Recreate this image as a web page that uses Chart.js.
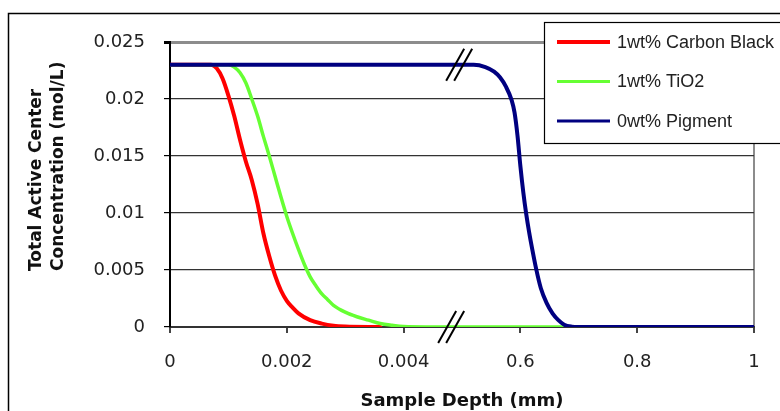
<!DOCTYPE html>
<html>
<head>
<meta charset="utf-8">
<script src="https://cdn.jsdelivr.net/npm/chart.js@4.4.1/dist/chart.umd.min.js"></script>
<style>
  body { margin: 0; background: #fff; }
  canvas { display: block; }
</style>
</head>
<body>
<canvas id="depthChart" width="780" height="411"></canvas>
<script>
// Sample depth (mm) and total active center concentration (mol/L)
const labels = ['1wt% Carbon Black', '1wt% TiO2', '0wt% Pigment'];
const colors = ['#ff0000', '#66ff33', '#000080'];

const depthCB = [0, 0.0007, 0.0008, 0.0009, 0.001, 0.0011, 0.0012, 0.0013, 0.0014, 0.0015, 0.0016, 0.0017, 0.0018, 0.0019, 0.002, 0.0021, 0.0022, 0.0024, 0.0026, 0.0028, 0.003, 0.0036];
const concCB  = [0.023, 0.023, 0.0227, 0.0218, 0.0203, 0.0185, 0.0164, 0.0145, 0.0129, 0.0108, 0.0082, 0.0062, 0.0045, 0.0032, 0.0023, 0.0017, 0.0012, 0.0006, 0.0003, 0.00012, 0.00005, 0];

const depthTiO2 = [0, 0.001, 0.0011, 0.0012, 0.0013, 0.0014, 0.0015, 0.0016, 0.0017, 0.0018, 0.0019, 0.002, 0.0021, 0.0022, 0.0023, 0.0024, 0.0025, 0.0026, 0.0027, 0.0028, 0.003, 0.0032, 0.0034, 0.0036, 0.0038, 0.004, 0.0049, 0.49, 0.7];
const concTiO2  = [0.023, 0.023, 0.0228, 0.0223, 0.0214, 0.02, 0.0185, 0.0167, 0.015, 0.0132, 0.0114, 0.0097, 0.0082, 0.0068, 0.0055, 0.0044, 0.0036, 0.0029, 0.0024, 0.0019, 0.0013, 0.0009, 0.0006, 0.0003, 0.00015, 0.00005, 0, 0, 0];

const depthNone = [0, 0.0049, 0.49, 0.52, 0.54, 0.555, 0.565, 0.575, 0.585, 0.59, 0.595, 0.6, 0.605, 0.61, 0.615, 0.62, 0.627, 0.635, 0.645, 0.655, 0.665, 0.675, 0.688, 0.7, 1];
const concNone  = [0.023, 0.023, 0.023, 0.023, 0.0228, 0.0224, 0.0219, 0.0211, 0.0199, 0.0188, 0.0168, 0.0141, 0.0118, 0.0099, 0.0083, 0.0069, 0.0051, 0.0034, 0.0021, 0.0012, 0.0006, 0.0002, 0.00003, 0, 0];

const xTickValues = [0, 0.002, 0.004, 0.6, 0.8, 1];
const xTickLabels = ['0', '0.002', '0.004', '0.6', '0.8', '1'];
const breakAt = 2.45; // axis position of the // break

// broken axis: 0..0.005 mm on the left, 0.49..1 mm on the right
function toAxis(d) {
  return d < 0.1 ? d / 0.002 : 3 + (d - 0.6) / 0.2;
}

function points(xs, ys) {
  return xs.map((d, i) => ({ x: toAxis(d), y: ys[i] }));
}

const frameAndLegend = {
  id: 'frameAndLegend',
  beforeDraw(chart) {
    const c = chart.ctx;
    c.save();
    c.fillStyle = '#fff';
    c.fillRect(0, 0, chart.width, chart.height);
    c.strokeStyle = '#000';
    c.lineWidth = 1.5;
    c.strokeRect(8.5, 13.5, 900, 500);
    c.restore();
  },
  afterDraw(chart) {
    const c = chart.ctx;
    const xs = chart.scales.x, ys = chart.scales.y;
    c.save();

    // axis break marks
    const bx = xs.getPixelForValue(breakAt);
    c.strokeStyle = '#000';
    c.lineWidth = 2;
    [[ys.getPixelForValue(0.023), 3], [ys.getPixelForValue(0), -5]].forEach(([cy, sh]) => {
      [-4, 4].forEach(dx => {
        c.beginPath();
        c.moveTo(bx + sh + dx - 9, cy + 16);
        c.lineTo(bx + sh + dx + 9, cy - 16);
        c.stroke();
      });
    });

    // y title
    c.fillStyle = '#111';
    c.font = 'bold 17px "DejaVu Sans"';
    c.textAlign = 'left';
    c.textBaseline = 'middle';
    [['Total Active Center', 37], ['Concentration (mol/L)', 59]].forEach(([t, x]) => {
      c.save();
      c.translate(x, 271);
      c.rotate(-Math.PI / 2);
      c.fillText(t, 0, 0);
      c.restore();
    });

    // legend box
    c.fillStyle = '#fff';
    c.fillRect(544, 22, 300, 121);
    c.strokeStyle = '#000';
    c.lineWidth = 1.2;
    c.strokeRect(544.5, 22.5, 300, 121);
    c.font = '18px "Liberation Sans"';
    c.textAlign = 'left';
    c.textBaseline = 'middle';
    chart.data.datasets.forEach((ds, i) => {
      const y = 42 + i * 39.5;
      c.strokeStyle = ds.borderColor;
      c.lineWidth = i === 0 ? 4 : 3;
      c.beginPath();
      c.moveTo(557, y);
      c.lineTo(610, y);
      c.stroke();
      c.fillStyle = '#222';
      c.fillText(ds.label, 617, y + 1);
    });
    c.restore();
  }
};

const chart = new Chart(document.getElementById('depthChart').getContext('2d'), {
  type: 'line',
  data: {
    datasets: [
      { label: labels[0], data: points(depthCB, concCB), borderColor: colors[0], borderWidth: 4, order: 2 },
      { label: labels[1], data: points(depthTiO2, concTiO2), borderColor: colors[1], borderWidth: 3.5, order: 1 },
      { label: labels[2], data: points(depthNone, concNone), borderColor: colors[2], borderWidth: 4, order: 0 }
    ]
  },
  options: {
    responsive: false,
    animation: false,
    events: [],
    layout: { padding: { top: 42, right: 26, left: 0, bottom: 0 } },
    elements: {
      point: { radius: 0 },
      line: { cubicInterpolationMode: 'monotone', borderCapStyle: 'round', borderJoinStyle: 'round' }
    },
    plugins: {
      legend: { display: false },
      tooltip: { enabled: false }
    },
    scales: {
      x: {
        type: 'linear',
        min: 0,
        max: 5,
        afterBuildTicks: s => { s.ticks = xTickValues.map(v => ({ value: toAxis(v) })); },
        afterFit: s => { s.height = 84; },
        ticks: {
          autoSkip: false,
          maxRotation: 0,
          padding: 19,
          color: '#222',
          font: { family: '"DejaVu Sans"', size: 18 },
          callback: (v, i) => xTickLabels[i]
        },
        grid: {
          color: ctx => ctx.tick && ctx.tick.value === 5 ? '#8c8c8c' : 'rgba(0,0,0,0)',
          lineWidth: 2,
          tickColor: '#444',
          tickLength: 6
        },
        border: { color: '#333', width: 2 },
        title: {
          display: true,
          text: 'Sample Depth (mm)',
          color: '#111',
          font: { family: '"DejaVu Sans"', size: 18, weight: 'bold', lineHeight: 1.1 },
          padding: { top: 0, bottom: 0 }
        }
      },
      y: {
        min: 0,
        max: 0.025,
        afterFit: s => { s.width = 170; },
        ticks: {
          stepSize: 0.005,
          padding: 19,
          color: '#222',
          font: { family: '"DejaVu Sans"', size: 18 },
          callback: v => String(+v.toFixed(3))
        },
        grid: {
          color: ctx => ctx.tick && ctx.tick.value > 0.0249 ? '#8c8c8c' : '#333',
          lineWidth: ctx => ctx.tick && ctx.tick.value > 0.0249 ? 3 : 1.2,
          tickColor: '#000',
          tickLength: 6
        },
        border: { color: '#000', width: 2 }
      }
    }
  },
  plugins: [frameAndLegend]
});
</script>
</body>
</html>
